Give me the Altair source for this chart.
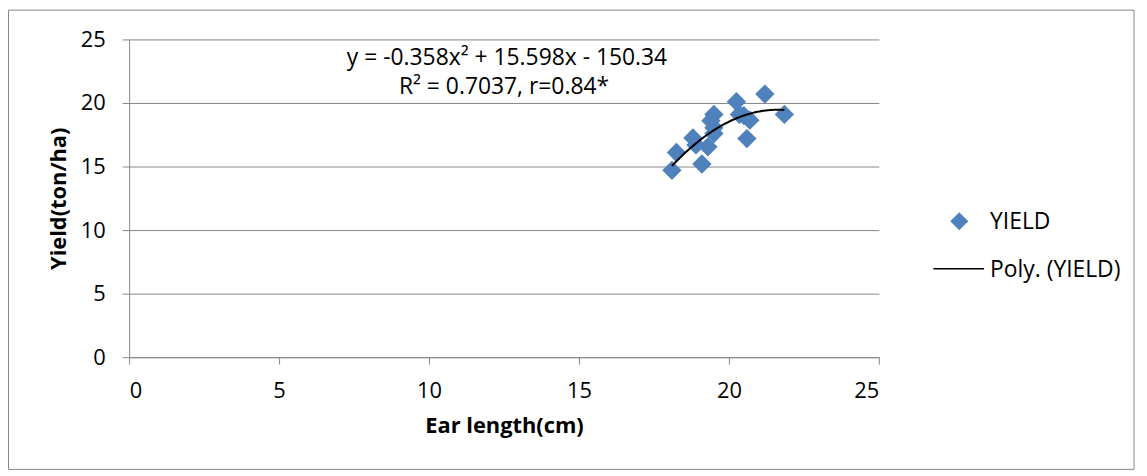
import altair as alt
import pandas as pd

ear_length = [18.1, 18.25, 18.8, 19.1, 19.3, 19.5, 19.4, 19.5, 19.5, 20.25, 20.35, 20.7, 20.6, 21.2, 21.85, 18.9, 20.5]
yield_vals = [14.7, 16.1, 17.25, 15.2, 16.55, 19.1, 18.6, 18.05, 17.6, 20.1, 19.1, 18.65, 17.2, 20.7, 19.1, 16.7, 19.0]
x_ticks = [0, 5, 10, 15, 20, 25]
y_ticks = [0, 5, 10, 15, 20, 25]
eq_lines = ["y = -0.358x² + 15.598x - 150.34", "R² = 0.7037, r=0.84*"]
eq_x = [12.6, 12.5]
eq_y = [23.5, 21.25]
legend_labels = ["YIELD", "Poly. (YIELD)"]

FONT = "Open Sans"
BLUE = "#4F81BD"
GRID = "#868686"

df = pd.DataFrame({"x": ear_length, "y": yield_vals})

xs = alt.Scale(domain=[0, 25], nice=False)
ys = alt.Scale(domain=[0, 25], nice=False)

base = alt.Chart(df)

points = base.mark_point(shape="diamond", filled=True, size=380, color=BLUE, opacity=1).encode(
    x=alt.X("x:Q", scale=xs, axis=alt.Axis(
        values=x_ticks, title="Ear length(cm)", grid=False, domainColor=GRID, tickColor=GRID,
        tickSize=7, labelFontSize=22, labelColor="black", labelPadding=17,
        titleFontSize=22, titleFontWeight="bold", titleColor="black", titlePadding=14, labelFont=FONT, titleFont=FONT)),
    y=alt.Y("y:Q", scale=ys, axis=alt.Axis(
        values=y_ticks, title="Yield(ton/ha)", grid=True, gridColor=GRID, domainColor=GRID, tickColor=GRID,
        tickSize=7, labelFontSize=22, labelColor="black", labelPadding=17,
        titleFontSize=22, titleFontWeight="bold", titleColor="black", titlePadding=10, labelFont=FONT, titleFont=FONT)),
)

trend = base.transform_regression("x", "y", method="poly", order=2).mark_line(color="black", strokeWidth=2).encode(
    x=alt.X("x:Q", scale=xs), y=alt.Y("y:Q", scale=ys)
)

eq_df = pd.DataFrame({"x": eq_x, "y": eq_y, "t": eq_lines})
eq = alt.Chart(eq_df).mark_text(fontSize=23, font=FONT, color="black", align="center", baseline="middle").encode(
    x=alt.X("x:Q", scale=xs), y=alt.Y("y:Q", scale=ys), text="t:N"
)

one = pd.DataFrame({"a": [0]})
leg_pt = alt.Chart(one).mark_point(shape="diamond", filled=True, size=330, color=BLUE, opacity=1).encode(
    x=alt.value(836), y=alt.value(183))
leg_t1 = alt.Chart(one).mark_text(text=legend_labels[0], fontSize=23, font=FONT, align="left", baseline="middle", color="black").encode(
    x=alt.value(867), y=alt.value(184))
leg_line = alt.Chart(one).mark_rule(color="black", strokeWidth=1.5).encode(
    x=alt.value(810), x2=alt.value(861), y=alt.value(231))
leg_t2 = alt.Chart(one).mark_text(text=legend_labels[1], fontSize=23, font=FONT, align="left", baseline="middle", color="black").encode(
    x=alt.value(867), y=alt.value(232))

# outer chart-area frame
L, T, R, B = -121.5, -29.5, 1012, 433
frame_top = alt.Chart(one).mark_rule(color=GRID, strokeWidth=1).encode(x=alt.value(L), x2=alt.value(R), y=alt.value(T))
frame_bot = alt.Chart(one).mark_rule(color=GRID, strokeWidth=1).encode(x=alt.value(L), x2=alt.value(R), y=alt.value(B))
frame_left = alt.Chart(one).mark_rule(color=GRID, strokeWidth=1).encode(x=alt.value(L), y=alt.value(T), y2=alt.value(B))
frame_right = alt.Chart(one).mark_rule(color=GRID, strokeWidth=1).encode(x=alt.value(R), y=alt.value(T), y2=alt.value(B))

chart = alt.layer(frame_top, frame_bot, frame_left, frame_right,
                  points, trend, eq, leg_pt, leg_t1, leg_line, leg_t2).properties(
    width=755, height=320,
    autosize=alt.AutoSizeParams(type="none"),
    padding={"left": 122, "top": 30, "right": 262, "bottom": 118},
    background="white",
).configure_view(stroke=None)

chart.save("out.html", embed_options={"renderer": "svg", "actions": False})
